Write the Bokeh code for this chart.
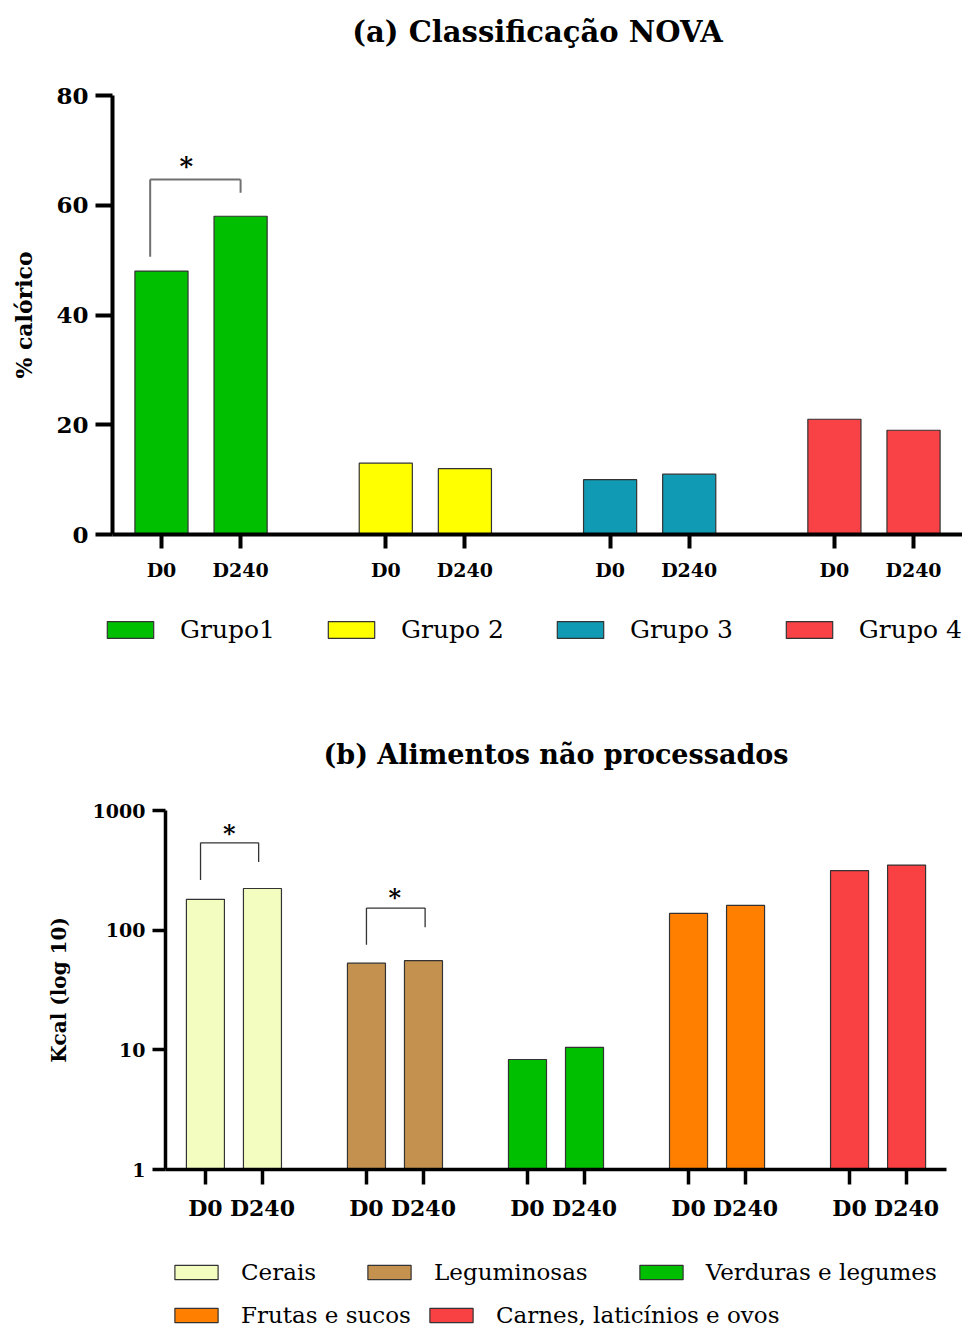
from bokeh.plotting import figure
from bokeh.models import (FactorRange, Range1d, FixedTicker, Legend, LegendItem,
                          ColumnDataSource, PrintfTickFormatter, Title)
from bokeh.layouts import column
from bokeh.embed import file_html
from bokeh.resources import INLINE
from bokeh.core.properties import value

# ---------------- data: (a) Classificação NOVA ----------------
days = ["D0", "D240"]
nova_groups = ["Grupo1", "Grupo 2", "Grupo 3", "Grupo 4"]
nova_d0 = [48, 13, 10, 21]
nova_d240 = [58, 12, 11, 19]
nova_colors = ["#00BF00", "#FFFF00", "#109AB4", "#F84245"]

# significance bracket (a): group, left foot, top, right foot, star height
sig_a_group = ["Grupo1"]
sig_a_left = [50.6]
sig_a_top = [64.7]
sig_a_right = [62.3]
sig_a_star = [68.5]

# ---------------- data: (b) Alimentos não processados ----------------
food_groups = ["Cerais", "Leguminosas", "Verduras e legumes",
               "Frutas e sucos", "Carnes, laticínios e ovos"]
food_d0 = [181, 53, 8.3, 138, 315]
food_d240 = [223, 55.6, 10.5, 161, 350]
food_colors = ["#F3FDC0", "#C4924E", "#00BF00", "#FF8000", "#F94043"]

sig_b_group = ["Cerais", "Leguminosas"]
sig_b_left = [263, 75.5]
sig_b_top = [537, 153]
sig_b_right = [371, 106]
sig_b_star = [734, 213]

SERIF = value("DejaVu Serif")
OUTLINE = "#333333"
W = 962


def add_titles(p, text, size, spacer_size, spacer_standoff):
    p.add_layout(Title(text=" ", text_font_size=spacer_size, standoff=spacer_standoff), "above")
    p.add_layout(Title(text=text, align="center", text_font="DejaVu Serif",
                       text_font_style="bold", text_font_size=size,
                       text_color="black"), "above")


def style_axes(p, tick_font, ytick_font, ylab_font, ylab_standoff, ytick_out, xtick_out, lw):
    for ax in (p.xaxis[0], p.yaxis[0]):
        ax.axis_line_width = lw
        ax.axis_line_color = "black"
        ax.major_tick_line_width = lw
        ax.major_tick_line_color = "black"
        ax.major_tick_in = 0
        ax.minor_tick_line_color = None
        ax.major_label_text_font = "DejaVu Serif"
        ax.major_label_text_font_style = "bold"
        ax.major_label_text_color = "black"
    xa = p.xaxis[0]
    xa.major_tick_out = xtick_out
    xa.major_label_text_font_size = tick_font
    xa.major_label_standoff = 10
    xa.group_text_font_size = "0px"
    xa.group_text_color = None
    xa.separator_line_color = None
    ya = p.yaxis[0]
    ya.major_tick_out = ytick_out
    ya.major_label_text_font_size = ytick_font
    ya.major_label_standoff = 7
    ya.axis_label_text_font = "DejaVu Serif"
    ya.axis_label_text_font_style = "bold"
    ya.axis_label_text_font_size = ylab_font
    ya.axis_label_text_color = "black"
    ya.axis_label_standoff = ylab_standoff


def legend_figure(height, x_range):
    # legend strip: shares the chart's factor range; its bars are hidden
    f = figure(width=W, height=height, x_range=x_range, y_range=Range1d(-2, -1),
               output_backend="svg", toolbar_location=None,
               x_axis_location=None, y_axis_location=None,
               min_border=0, outline_line_color=None, frame_align=False)
    f.grid.visible = False
    return f


def add_legend_row(f, sources, labels, colors, bottom, vx, vy, glyph_w, glyph_h,
                   standoff, spacing, font_size):
    items = []
    for src, lab, c in zip(sources, labels, colors):
        r = f.vbar(x="x", top="top", bottom=bottom, width=0.7, source=src,
                   fill_color=c, line_color=OUTLINE, line_width=1.2, visible=False)
        items.append(LegendItem(label=lab, renderers=[r]))
    leg = Legend(items=items, orientation="horizontal", location=(vx, vy),
                 margin=0, padding=0, spacing=spacing,
                 glyph_width=glyph_w, glyph_height=glyph_h, label_standoff=standoff,
                 label_text_font="DejaVu Serif", label_text_font_size=font_size,
                 label_text_color="black", border_line_color=None,
                 background_fill_alpha=0)
    f.add_layout(leg, "center")


def draw_brackets(p, groups, left, top, right, star, x_off_left, x_off_right, star_off,
                  color, width, star_size):
    x0, y0, x1, y1 = [], [], [], []
    sx, sy = [], []
    for g, yl, yt, yr, ys, ol, orr, so in zip(groups, left, top, right, star,
                                               x_off_left, x_off_right, star_off):
        xl = (g, days[0], ol)
        xr = (g, days[1], orr)
        x0 += [xl, xl, xr]
        y0 += [yl, yt, yt]
        x1 += [xl, xr, xr]
        y1 += [yt, yt, yr]
        sx.append((g, days[0], so))
        sy.append(ys)
    p.segment(x0="x0", y0="y0", x1="x1", y1="y1",
              source=ColumnDataSource(dict(x0=x0, y0=y0, x1=x1, y1=y1)),
              line_color=color, line_width=width)
    p.text(x="x", y="y", text="t",
           source=ColumnDataSource(dict(x=sx, y=sy, t=["*"] * len(sx))),
           text_font=SERIF, text_font_style="bold", text_font_size=star_size,
           text_align="center", text_baseline="middle", y_offset=7, text_color="black")


# ================= figure (a) =================
factors_a = [(g, d) for g in nova_groups for d in days]
xr_a = FactorRange(*factors_a, factor_padding=0.05, group_padding=0.927,
                   range_padding=0.15, range_padding_units="absolute")
pa = figure(width=W, height=584, x_range=xr_a, y_range=Range1d(0, 80),
            output_backend="svg", toolbar_location=None, frame_align=False,
            min_border_left=112, min_border_right=0, min_border_top=95,
            min_border_bottom=50, outline_line_color=None)
add_titles(pa, "(a) Classificação NOVA", "29px", "20px", 18)
pa.xgrid.visible = False
pa.ygrid.visible = False
pa.yaxis.axis_label = "% calórico"
pa.yaxis.ticker = FixedTicker(ticks=[0, 20, 40, 60, 80])

src_a = []
for g, v0, v1, c in zip(nova_groups, nova_d0, nova_d240, nova_colors):
    src = ColumnDataSource(dict(x=[(g, days[0]), (g, days[1])], top=[v0, v1]))
    src_a.append(src)
    pa.vbar(x="x", top="top", bottom=0, width=0.705, source=src,
            fill_color=c, line_color=OUTLINE, line_width=1.2)

style_axes(pa, "19px", "23px", "22px", 16, 17, 14, 4)
draw_brackets(pa, sig_a_group, sig_a_left, sig_a_top, sig_a_right, sig_a_star,
              [-0.15], [0.0], [0.33], "#707070", 2, "26px")

leg_a = legend_figure(96, xr_a)
add_legend_row(leg_a, src_a, nova_groups, nova_colors, 0, 101, 36, 58, 21, 21, 47, "25px")

# ================= figure (b) =================
factors_b = [(g, d) for g in food_groups for d in days]
xr_b = FactorRange(*factors_b, factor_padding=0.05, group_padding=0.915,
                   range_padding=0.235, range_padding_units="absolute")
pb = figure(width=W, height=543, x_range=xr_b, y_range=Range1d(1, 1000),
            y_axis_type="log", output_backend="svg", toolbar_location=None,
            frame_align=False,
            min_border_left=165, min_border_right=16, min_border_top=130,
            min_border_bottom=51, outline_line_color=None)
add_titles(pb, "(b) Alimentos não processados", "27px", "20px", 12)
pb.xgrid.visible = False
pb.ygrid.visible = False
pb.yaxis.axis_label = "Kcal (log 10)"
pb.yaxis.ticker = FixedTicker(ticks=[1, 10, 100, 1000], minor_ticks=[])
pb.yaxis.formatter = PrintfTickFormatter(format="%d")

src_b = []
for g, v0, v1, c in zip(food_groups, food_d0, food_d240, food_colors):
    src = ColumnDataSource(dict(x=[(g, days[0]), (g, days[1])], top=[v0, v1]))
    src_b.append(src)
    pb.vbar(x="x", top="top", bottom=1, width=0.70, source=src,
            fill_color=c, line_color=OUTLINE, line_width=1.2)

style_axes(pb, "22px", "19px", "20px", 19, 13, 15, 3.5)
draw_brackets(pb, sig_b_group, sig_b_left, sig_b_top, sig_b_right, sig_b_star,
              [-0.09, 0.0], [-0.07, 0.03], [0.44, 0.52], "#333333", 1.3, "24px")

leg_b = legend_figure(106, xr_b)
add_legend_row(leg_b, src_b[:3], food_groups[:3], food_colors[:3], 1, 169, 44, 54, 18, 18, 46, "23px")
add_legend_row(leg_b, src_b[3:], food_groups[3:], food_colors[3:], 1, 169, 1, 54, 18, 18, 13, "23px")

layout = column(pa, leg_a, pb, leg_b, spacing=0)
open("out.html", "w").write(file_html(layout, INLINE))
